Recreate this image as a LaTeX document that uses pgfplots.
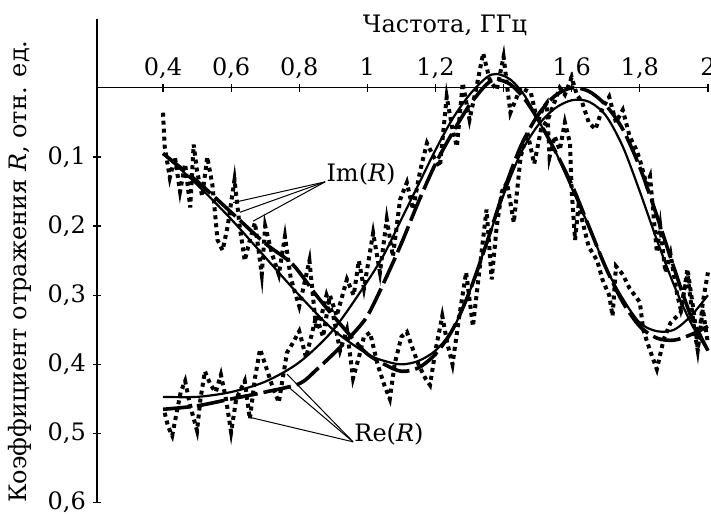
\documentclass[border=0pt]{standalone}
\usepackage{fontspec}
\setmainfont{DejaVu Serif}
\usepackage{pgfplots}
\pgfplotsset{compat=1.18}
\begin{document}
\begin{tikzpicture}[font=\fontsize{12}{14}\selectfont]
\begin{axis}[
  scale only axis, width=305.5pt, height=242pt,
  xmin=0.206, xmax=2, ymin=-0.1, ymax=0.6,
  y dir=reverse,
  axis x line=middle, axis y line=left,
  axis line style={-, line width=0.6pt},
  every tick/.style={black, line width=0.6pt},
  tick align=center, major tick length=4pt,
  xtick={0.4,0.6,0.8,1,1.2,1.4,1.6,1.8,2},
  xticklabels={{0,4},{0,6},{0,8},1,{1,2},{},{1,6},{1,8},2},
  xticklabel style={anchor=base, yshift=8pt},
  ytick={0.1,0.2,0.3,0.4,0.5,0.6},
  yticklabels={{0,1},{0,2},{0,3},{0,4},{0,5},{0,6}},
  clip=false,
]
% Im(R): measured (dotted)
\addplot[black, line width=2pt, dash pattern=on 2pt off 2pt] coordinates {
(0.400,0.036) (0.405,0.085) (0.42,0.13) (0.435,0.10) (0.45,0.15) (0.465,0.11)
(0.48,0.173) (0.49,0.082) (0.50,0.12) (0.515,0.157) (0.53,0.10) (0.545,0.14)
(0.56,0.22) (0.575,0.235) (0.59,0.20) (0.61,0.133) (0.625,0.20) (0.64,0.25)
(0.655,0.22) (0.67,0.195) (0.69,0.27) (0.70,0.20) (0.72,0.24) (0.74,0.27)
(0.758,0.215) (0.775,0.275) (0.79,0.30) (0.80,0.316) (0.83,0.25) (0.85,0.35)
(0.865,0.33) (0.88,0.30) (0.90,0.33) (0.92,0.38) (0.94,0.35) (0.958,0.42)
(0.975,0.39) (0.99,0.36) (1.008,0.354) (1.03,0.40) (1.05,0.43) (1.066,0.45)
(1.08,0.40) (1.10,0.36) (1.116,0.353) (1.135,0.38) (1.15,0.40) (1.17,0.42)
(1.184,0.43) (1.20,0.38) (1.22,0.33) (1.235,0.37) (1.25,0.40) (1.27,0.33)
(1.29,0.267) (1.31,0.345) (1.33,0.26) (1.35,0.176) (1.365,0.277) (1.38,0.20)
(1.395,0.15) (1.41,0.137) (1.43,0.195) (1.45,0.10) (1.47,0.065) (1.49,0.11)
(1.51,0.06) (1.53,0.046) (1.55,0.02) (1.565,0.0) (1.58,0.01) (1.60,-0.015)
(1.615,0.01) (1.63,0.02) (1.65,0.05) (1.67,0.06) (1.69,0.03) (1.71,0.013)
(1.73,0.05) (1.75,0.032) (1.77,0.07) (1.79,0.09) (1.80,0.104) (1.82,0.14)
(1.83,0.128) (1.85,0.238) (1.86,0.20) (1.875,0.267) (1.89,0.24) (1.91,0.30)
(1.92,0.32) (1.94,0.27) (1.96,0.35) (1.97,0.38) (1.985,0.32) (2.00,0.37)
};
% Re(R): measured (dotted)
\addplot[black, line width=2pt, dash pattern=on 2pt off 2pt] coordinates {
(0.405,0.47) (0.415,0.49) (0.427,0.503) (0.44,0.47) (0.452,0.44) (0.465,0.424)
(0.48,0.46) (0.50,0.496) (0.51,0.45) (0.523,0.41) (0.54,0.43) (0.555,0.44)
(0.57,0.415) (0.585,0.45) (0.60,0.498) (0.615,0.45) (0.64,0.424) (0.655,0.479)
(0.67,0.42) (0.685,0.378) (0.70,0.40) (0.72,0.43) (0.74,0.455) (0.764,0.383)
(0.78,0.37) (0.80,0.352) (0.82,0.39) (0.85,0.33) (0.87,0.36) (0.89,0.30)
(0.91,0.33) (0.94,0.277) (0.96,0.30) (0.975,0.25) (0.99,0.29) (1.017,0.21)
(1.037,0.267) (1.057,0.19) (1.075,0.244) (1.096,0.162) (1.116,0.137) (1.134,0.176)
(1.155,0.12) (1.175,0.08) (1.195,0.10) (1.213,0.114) (1.233,0.013) (1.25,0.06)
(1.263,0.085) (1.28,-0.007) (1.30,0.046) (1.32,0.0) (1.34,-0.05) (1.36,-0.01)
(1.38,0.003) (1.40,-0.045) (1.42,0.036) (1.45,0.0) (1.48,0.007) (1.50,0.05)
(1.515,0.03) (1.527,0.022) (1.535,0.10) (1.55,0.07) (1.565,0.09) (1.58,0.05)
(1.595,0.08) (1.60,0.15) (1.61,0.22) (1.62,0.17) (1.63,0.19) (1.65,0.23)
(1.675,0.25) (1.69,0.277) (1.71,0.30) (1.72,0.33) (1.73,0.258) (1.75,0.27)
(1.77,0.29) (1.80,0.31) (1.81,0.35) (1.83,0.38) (1.85,0.407) (1.87,0.364)
(1.89,0.34) (1.92,0.325) (1.94,0.262) (1.96,0.33) (1.97,0.378) (1.985,0.31)
(2.00,0.267)
};
% Im(R): solid
\addplot[black, line width=1.1pt, smooth] coordinates {
(0.40,0.095) (0.50,0.14) (0.60,0.19) (0.70,0.245) (0.80,0.30) (0.90,0.35)
(1.00,0.385) (1.05,0.395) (1.10,0.40) (1.15,0.395) (1.20,0.38) (1.25,0.35)
(1.30,0.295) (1.35,0.225) (1.40,0.155) (1.45,0.095) (1.50,0.055) (1.55,0.03)
(1.60,0.018) (1.65,0.02) (1.70,0.04) (1.75,0.085) (1.80,0.15) (1.85,0.22)
(1.90,0.285) (1.95,0.34) (2.00,0.38)
};
% Im(R): dashed
\addplot[black, line width=1.8pt, dash pattern=on 14pt off 3pt, smooth] coordinates {
(0.40,0.095) (0.50,0.135) (0.60,0.18) (0.70,0.225) (0.78,0.255) (0.85,0.30)
(0.90,0.33) (0.96,0.364) (1.00,0.385) (1.05,0.40) (1.10,0.41) (1.15,0.405)
(1.20,0.385) (1.25,0.35) (1.30,0.295) (1.35,0.225) (1.40,0.15) (1.45,0.085)
(1.50,0.04) (1.55,0.012) (1.60,0.0) (1.65,0.005) (1.70,0.025) (1.75,0.06)
(1.80,0.115) (1.85,0.185) (1.90,0.26) (1.95,0.33) (2.00,0.38)
};
% Re(R): solid
\addplot[black, line width=1.1pt, smooth] coordinates {
(0.40,0.447) (0.50,0.447) (0.60,0.44) (0.70,0.425) (0.80,0.397) (0.90,0.35)
(1.00,0.28) (1.05,0.24) (1.10,0.19) (1.15,0.14) (1.20,0.09) (1.25,0.045)
(1.30,0.01) (1.35,-0.015) (1.38,-0.02) (1.42,-0.012) (1.46,0.01) (1.50,0.045)
(1.55,0.09) (1.60,0.145) (1.65,0.20) (1.70,0.26) (1.75,0.305) (1.80,0.34)
(1.85,0.352) (1.90,0.35) (1.95,0.33) (2.00,0.30)
};
% Re(R): dashed
\addplot[black, line width=1.8pt, dash pattern=on 14pt off 3pt, smooth] coordinates {
(0.40,0.465) (0.50,0.46) (0.60,0.45) (0.70,0.44) (0.80,0.428) (0.85,0.408)
(0.90,0.385) (0.95,0.36) (1.00,0.33) (1.05,0.28) (1.10,0.225) (1.15,0.165)
(1.20,0.11) (1.25,0.065) (1.30,0.025) (1.35,-0.005) (1.38,-0.012) (1.42,-0.005)
(1.46,0.015) (1.50,0.045) (1.55,0.09) (1.60,0.14) (1.65,0.20) (1.70,0.26)
(1.75,0.31) (1.80,0.345) (1.85,0.362) (1.90,0.365) (1.95,0.357) (2.00,0.345)
};
% annotations
\draw[line width=0.5pt] (axis cs:0.876,0.136) -- (axis cs:0.606,0.166);
\draw[line width=0.5pt] (axis cs:0.876,0.136) -- (axis cs:0.626,0.180);
\draw[line width=0.5pt] (axis cs:0.876,0.136) -- (axis cs:0.664,0.193);
\node[anchor=base west, inner sep=0pt, xshift=0.5pt] at (axis cs:0.876,0.136) {Im(\textit{R})};
\draw[line width=0.5pt] (axis cs:0.958,0.512) -- (axis cs:0.764,0.414);
\draw[line width=0.5pt] (axis cs:0.958,0.512) -- (axis cs:0.764,0.431);
\draw[line width=0.5pt] (axis cs:0.958,0.512) -- (axis cs:0.650,0.476);
\node[anchor=base west, inner sep=0pt, xshift=0.5pt] at (axis cs:0.958,0.512) {Re(\textit{R})};
\node at (axis cs:1.228,-0.09) {Частота, ГГц};
\node[rotate=90] at (axis cs:-0.02,0.266) {Коэффициент отражения \textit{R}, отн. ед.};
\coordinate (bbA) at (axis cs:-0.0786,-0.127);
\coordinate (bbB) at (axis cs:2.009,0.616);
\end{axis}
\pgfresetboundingbox
\path[use as bounding box] (bbA) rectangle (bbB);
\end{tikzpicture}
\end{document}
